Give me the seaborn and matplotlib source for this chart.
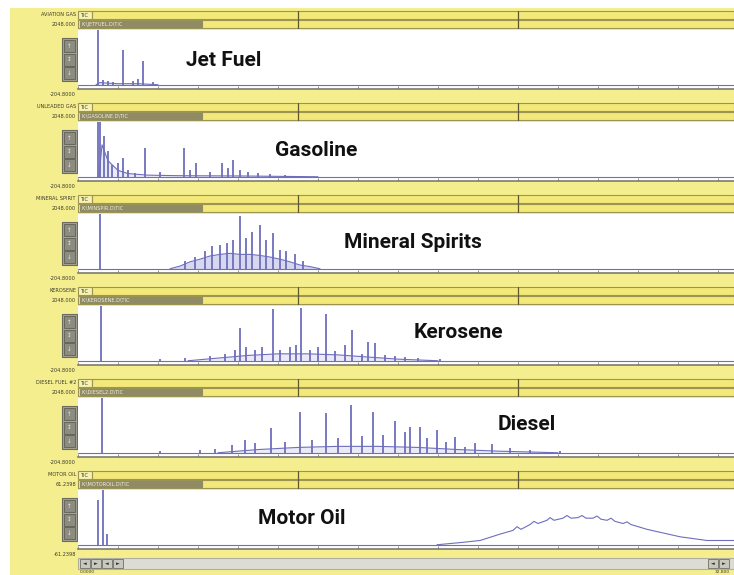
import matplotlib
matplotlib.use("Agg")
import matplotlib.pyplot as plt
from matplotlib.patches import Rectangle
import pandas as pd
import seaborn as sns

sns.set_theme(style="white")
plt.rcParams["font.family"] = ["DejaVu Sans"]

# ---------------------------------------------------------------------------
# data: retention time (min), response (% full scale)
# ---------------------------------------------------------------------------
jet_t = [1.0, 1.25, 1.5, 1.75, 2.25, 2.75, 3.0, 3.25, 3.75]
jet_h = [110, 9, 7, 5, 66, 7, 11, 44, 5]
jet_env_t = [0.9, 1.1, 1.5, 2.0, 3.0, 4.0]
jet_env_h = [0, 4, 3, 2, 2, 0]

gas_t = [1.0, 1.1, 1.3, 1.5, 1.7, 2.0, 2.25, 2.5, 2.85, 3.35, 4.1, 5.3, 5.6, 5.9,
         6.6, 7.2, 7.5, 7.75, 8.1, 8.5, 9.0, 9.6, 10.35]
gas_h = [110, 110, 76, 49, 22, 25, 36, 13, 7, 55, 9, 55, 13, 25,
         9, 25, 16, 31, 13, 9, 7, 5, 4]
gas_env_t = [1.05, 1.2, 1.5, 2.0, 2.5, 3.5, 5.0, 8.0, 12.0]
gas_env_h = [0, 60, 30, 12, 6, 3, 2, 1.5, 0]

min_t = [1.1, 5.35, 5.85, 6.35, 6.7, 7.1, 7.45, 7.75, 8.1, 8.4, 8.7, 9.1, 9.4,
         9.75, 10.1, 10.4, 10.85, 11.25]
min_h = [110, 15, 22, 33, 42, 45, 49, 55, 100, 58, 69, 82, 55, 67, 36, 33, 27, 15]
min_env_t = [4.6, 5.1, 5.6, 6.1, 6.6, 7.1, 7.6, 8.1, 8.6, 9.1, 9.6, 10.1, 10.6,
             11.1, 11.6, 12.1]
min_env_h = [0, 5, 13, 18, 24, 27, 29, 27, 27, 25, 22, 18, 13, 7, 4, 0]

ker_t = [1.15, 4.1, 5.35, 6.6, 7.35, 7.85, 8.1, 8.4, 8.85, 9.2, 9.75, 10.1, 10.6,
         10.9, 11.15, 11.6, 12.0, 12.4, 12.85, 13.35, 13.7, 14.2, 14.5, 14.85,
         15.35, 15.85, 16.35, 17.0, 18.1]
ker_h = [110, 4, 5, 9, 12, 21, 61, 25, 21, 25, 98, 21, 25, 30, 100, 21, 25, 88,
         18, 30, 57, 12, 36, 34, 11, 9, 7, 5, 4]
ker_env_t = [5.5, 7.0, 8.5, 10.0, 11.5, 13.0, 14.5, 16.0, 18.0]
ker_env_h = [0, 5, 10, 13, 13, 11, 7, 3, 0]

dsl_t = [1.2, 4.1, 6.1, 6.85, 7.7, 8.35, 8.85, 9.65, 10.35, 11.1, 11.7, 12.4,
         13.0, 13.65, 14.2, 14.75, 15.25, 15.85, 16.35, 16.6, 17.1, 17.45,
         17.95, 18.4, 18.85, 19.35, 19.85, 20.7, 21.6, 22.6, 24.1]
dsl_h = [110, 4, 6, 7, 15, 24, 19, 46, 20, 76, 24, 74, 28, 89, 31, 76, 33, 59,
         39, 48, 48, 28, 43, 20, 30, 11, 19, 17, 9, 6, 4]
dsl_env_t = [7.0, 9.0, 11.0, 13.0, 15.0, 17.0, 19.0, 21.0, 24.0]
dsl_env_h = [0, 6, 10, 12, 12, 10, 6, 3, 0]

oil_t = [1.0, 1.25, 1.45]
oil_h = [85, 110, 20]
oil_env_t = [17.95, 19.1, 20.1, 21.1, 21.75, 21.95, 22.15, 22.6, 22.8, 23.0,
             23.45, 23.6, 23.8, 24.25, 24.45, 24.65, 25.0, 25.2, 25.4, 25.75,
             25.95, 26.15, 26.45, 26.65, 26.85, 27.25, 27.45, 27.65, 28.45,
             30.1, 31.45, 32.8]
oil_env_h = [0, 4, 8, 20, 27, 34, 29, 38, 44, 40, 46, 51, 46, 50, 55, 50, 51,
             55, 50, 50, 54, 48, 46, 50, 44, 40, 43, 38, 29, 15, 8, 8]

names = ["Jet Fuel", "Gasoline", "Mineral Spirits", "Kerosene", "Diesel", "Motor Oil"]
tags = ["AVIATION GAS", "UNLEADED GAS", "MINERAL SPIRIT", "KEROSENE",
        "DIESEL FUEL #2", "MOTOR OIL"]
files = ["K:\\JETFUEL.D\\TIC", "K:\\GASOLINE.D\\TIC", "K:\\MINSPIR.D\\TIC",
         "K:\\KEROSENE.D\\TIC", "K:\\DIESEL2.D\\TIC", "K:\\MOTOROIL.D\\TIC"]
scale_top = ["2048.000"] * 5 + ["61.2398"]
scale_bot = ["-204.8000"] * 5 + ["-61.2398"]

peaks = [(jet_t, jet_h), (gas_t, gas_h), (min_t, min_h), (ker_t, ker_h),
         (dsl_t, dsl_h), (oil_t, oil_h)]
envs = [(jet_env_t, jet_env_h), (gas_env_t, gas_env_h), (min_env_t, min_env_h),
        (ker_env_t, ker_env_h), (dsl_env_t, dsl_env_h), (oil_env_t, oil_env_h)]

# layout: label centres (px) and how dense the unresolved hump looks
label_xy = [(224, 60), (316, 150), (413, 242), (458, 333), (527, 425), (302, 518)]
fill_alpha = [0.3, 0.3, 0.6, 0.3, 0.3, 0.0]

# ---------------------------------------------------------------------------
W, H = 734, 575
YELLOW = "#F5EE8E"
BAR = "#F3E87A"
EDGE = "#9C9450"
DARK = "#8F8B66"
GREY = "#A3A396"
TRACE = "#6E6EBC"
FILL = "#BDBDE6"

fig = plt.figure(figsize=(W / 100, H / 100), dpi=100)
fig.patch.set_facecolor("white")
bg = fig.add_axes([0, 0, 1, 1])
bg.set_xlim(0, W)
bg.set_ylim(H, 0)
bg.axis("off")


def rect(x, y, w, h, fc, ec=None, lw=0.8):
    bg.add_patch(Rectangle((x, y), w, h, facecolor=fc,
                           edgecolor=ec if ec else fc, linewidth=lw))


rect(10, 8, W - 10, H - 8, YELLOW)

small = dict(fontsize=3.6, color="#3a3a2a")
X0 = 78
pitch = 92

for i, name in enumerate(names):
    top = 11 + pitch * i

    # header rows
    rect(X0, top, 14, 8, "#F8F2B0", EDGE)
    bg.text(X0 + 2, top + 4.2, "TIC", va="center", **small)
    rect(X0 + 14, top, W - X0 - 14, 8, BAR, EDGE)
    rect(X0, top + 9, W - X0, 8, BAR, EDGE)
    rect(X0 + 2, top + 10, 122, 6, DARK)
    bg.text(X0 + 4, top + 13.2, files[i], va="center", fontsize=3.6, color="#f0f0d8")
    for xd in (298, 518):
        bg.plot([xd, xd], [top, top + 17], color="#5c5830", lw=0.9)

    # left-hand labels
    bg.text(76, top + 4, tags[i], ha="right", va="center", **small)
    bg.text(76, top + 13, scale_top[i], ha="right", va="center", **small)
    bg.text(76, top + 84, scale_bot[i], ha="right", va="center", **small)

    # zoom buttons
    rect(62, top + 27, 15, 43, GREY, "#6a6a5e")
    for k, lab in enumerate(["\u2191", "\u2195", "\u2193"]):
        rect(64, top + 29 + 13.5 * k, 11, 12, "#8c8c80", "#5e5e52", 0.6)
        bg.text(69.5, top + 35 + 13.5 * k, lab, ha="center", va="center",
                fontsize=4, color="#e8e8e0")

    # chromatogram axes
    ax = fig.add_axes([X0 / W, 1 - (top + 78) / H, (W - X0) / W, 59 / H])
    ax.set_facecolor("white")
    et, eh = envs[i]
    env = pd.DataFrame({"t": et, "h": eh})
    if fill_alpha[i] > 0:
        ax.fill_between(env["t"], 0, env["h"], color=FILL, alpha=fill_alpha[i], lw=0)
    sns.lineplot(data=env, x="t", y="h", ax=ax, color=TRACE, lw=0.8)
    ax.axhline(0, color=TRACE, lw=0.8)
    pt, ph = peaks[i]
    ax.vlines(pt, 0, ph, color=TRACE, lw=1.3)
    ax.set_xlim(0, 32.8)
    ax.set_ylim(-8, 103)
    ax.set_xticks(range(0, 33, 2))
    ax.set_yticks([])
    ax.tick_params(axis="x", direction="in", length=2.5, width=0.6,
                   colors="#808080", labelbottom=False, bottom=True)
    ax.set_xlabel("")
    ax.set_ylabel("")
    for s in ("top", "left", "right"):
        ax.spines[s].set_visible(False)
    ax.spines["bottom"].set_color("#7c7c70")
    ax.spines["bottom"].set_linewidth(1.2)

    lx, ly = label_xy[i]
    fig.text(lx / W, 1 - ly / H, name, ha="center", va="center",
             fontsize=15, fontweight="bold", family=["Roboto", "DejaVu Sans"],
             color="#111111")

# bottom scroll bar
rect(X0, 558, W - X0, 11, "#DCDCD4", "#B0B0A0")
for k, arrow in enumerate(["\u25c4", "\u25ba", "\u25c4", "\u25ba"]):
    rect(80 + 11 * k, 559, 10, 9, "#C8C8BE", "#707066", 0.6)
    bg.text(85 + 11 * k, 563.8, arrow, ha="center", va="center", fontsize=3.5,
            color="#303030")
for k, arrow in enumerate(["\u25c4", "\u25ba"]):
    rect(708 + 11 * k, 559, 10, 9, "#C8C8BE", "#707066", 0.6)
    bg.text(713 + 11 * k, 563.8, arrow, ha="center", va="center", fontsize=3.5,
            color="#303030")
bg.text(80, 572, "0.0000", fontsize=3.2, color="#3a3a2a", va="center")
bg.text(730, 572, "32.800", fontsize=3.2, color="#3a3a2a", va="center", ha="right")

fig.savefig("out.png", dpi=100)
